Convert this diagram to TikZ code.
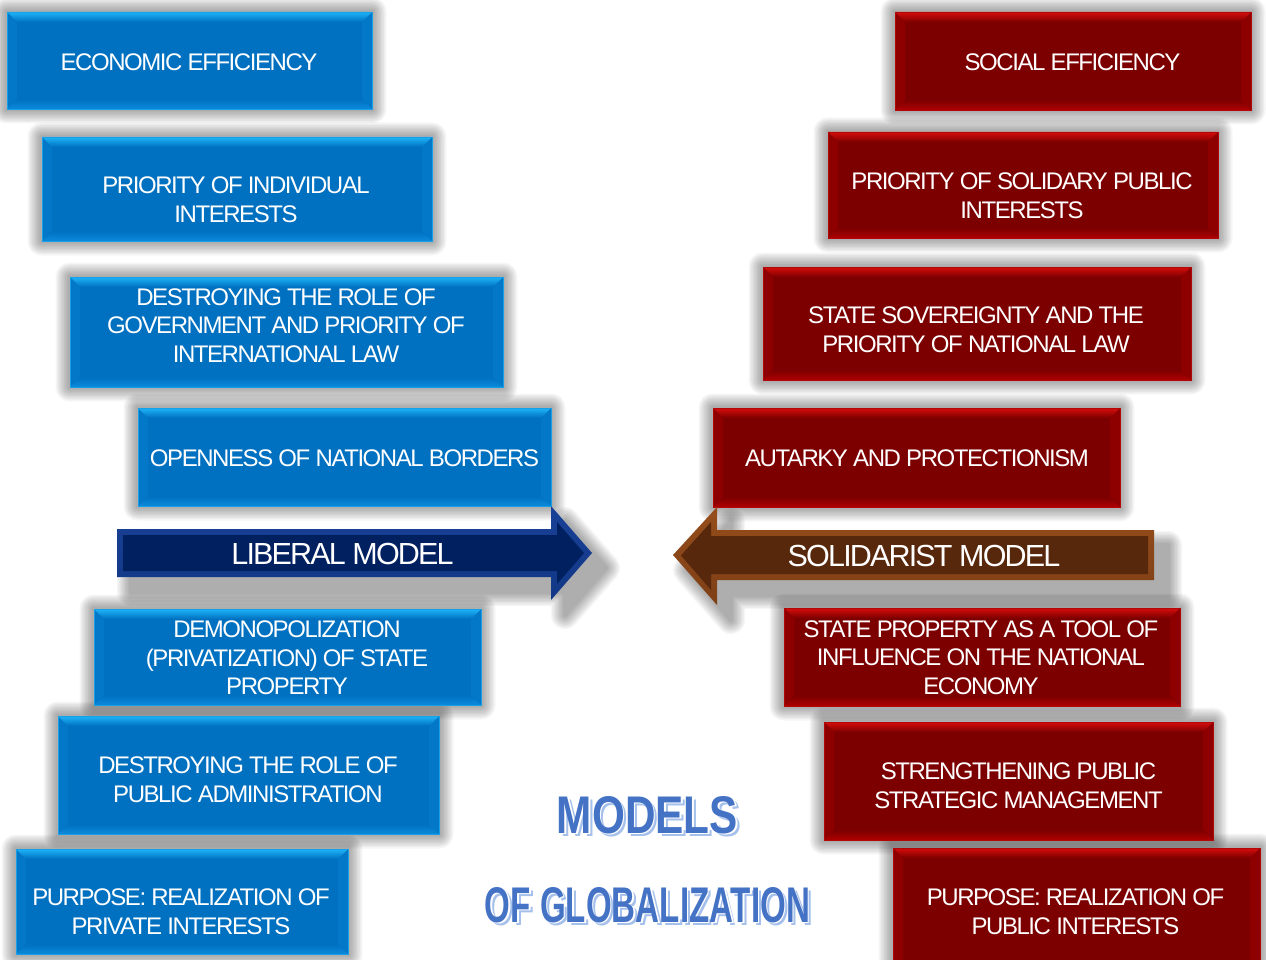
\documentclass[tikz,border=0pt]{standalone}
\usepackage{fontspec}
\setmainfont{Liberation Sans}
\newfontfamily\boxfont{Liberation Sans}[LetterSpace=-6]
\usetikzlibrary{calc}
\pgfdeclarelayer{bgzero}
\pgfdeclarelayer{background}
\pgfsetlayers{bgzero,background,main}
\definecolor{bmain}{RGB}{0,112,192}
\definecolor{btop}{RGB}{30,180,248}
\definecolor{bbot}{RGB}{12,138,220}
\definecolor{bside}{RGB}{4,120,200}
\definecolor{rmain}{RGB}{125,0,0}
\definecolor{rtop}{RGB}{215,12,12}
\definecolor{rbot}{RGB}{175,0,0}
\definecolor{rside}{RGB}{142,0,0}
\definecolor{navy}{RGB}{0,32,96}
\definecolor{navyl}{RGB}{25,65,150}
\definecolor{brn}{RGB}{88,40,12}
\definecolor{brnl}{RGB}{150,78,28}
\definecolor{ttl}{RGB}{68,114,196}
\definecolor{ttls}{RGB}{165,192,235}
\newcommand\softshadow[1]{%
  \begin{pgfonlayer}{background}
  \begin{scope}[shift={(14pt,-15pt)}]
  \foreach \k in {0,...,9}{
    \pgfmathsetmacro\lw{4+2.7*\k}
    \begin{scope}[transparency group, opacity=0.034]
      \filldraw[black, line width=\lw pt, line join=round] #1;
    \end{scope}
  }
  \end{scope}
  \end{pgfonlayer}}
\newcommand\ttltext[3]{%
  \rlap{\smash{\hspace*{3.3pt}\raisebox{-2.8pt}{\color{ttls}\resizebox{#1}{#2}{#3}}}}%
  \rlap{\smash{\hspace*{1.6pt}\raisebox{-1.4pt}{\color{white}\resizebox{#1}{#2}{#3}}}}%
  {\color{ttl}\resizebox{#1}{#2}{#3}}}
\tikzset{
  bevel/.style n args={4}{path picture={
    \coordinate (@nw) at (path picture bounding box.north west);
    \coordinate (@ne) at (path picture bounding box.north east);
    \coordinate (@sw) at (path picture bounding box.south west);
    \coordinate (@se) at (path picture bounding box.south east);
    \fill[#4] (@nw) -- (@sw) -- ([shift={(10pt,10pt)}]@sw) -- ([shift={(10pt,-10pt)}]@nw) -- cycle;
    \fill[#4] (@ne) -- (@se) -- ([shift={(-10pt,10pt)}]@se) -- ([shift={(-10pt,-10pt)}]@ne) -- cycle;
    \shade[top color=#1, bottom color=#3] (@sw) -- (@se) -- ([shift={(-10pt,10pt)}]@se) -- ([shift={(10pt,10pt)}]@sw) -- cycle;
    \shade[top color=#2, bottom color=#1] (@nw) -- (@ne) -- ([shift={(-10pt,-10pt)}]@ne) -- ([shift={(10pt,-10pt)}]@nw) -- cycle;
  }},
  bluebox/.style={rectangle, inner sep=0pt, fill=bmain, draw=btop!70!bmain, line width=0.7pt, bevel={bmain}{btop}{bbot}{bside}},
  redbox/.style={rectangle, inner sep=0pt, fill=rmain, draw=rtop!60!rmain, line width=0.7pt, bevel={rmain}{rtop}{rbot}{rside}},
  txt/.style={text=white, font=\boxfont\fontsize{24}{28.7}\selectfont, align=center, inner sep=0pt},
  arrtxt/.style={text=white, font=\boxfont\fontsize{30.5}{34}\selectfont, inner sep=0pt},
  ttlfont/.style={font=\bfseries, inner sep=0pt},
}
\newcommand\boxshadow[1]{\softshadow{(#1.north west) rectangle (#1.south east)}}
\begin{document}
\begin{tikzpicture}[x=1pt, y=-1pt]
\begin{pgfonlayer}{bgzero}
\fill[white] (0,0) rectangle (1266,960);
\end{pgfonlayer}
\useasboundingbox (0,0) rectangle (1266,960);

% ---------- left (blue) column ----------
\node[bluebox, minimum width=365pt, minimum height=97pt] (l1) at (189.5,60.5) {};
\boxshadow{l1}
\node[txt] (l1t) at (189,62) {ECONOMIC EFFICIENCY};
\node[bluebox, minimum width=390pt, minimum height=104pt] (l2) at (237,189) {};
\boxshadow{l2}
\node[txt] (l2t) at (236,200) {PRIORITY OF INDIVIDUAL\\INTERESTS};
\node[bluebox, minimum width=433pt, minimum height=110pt] (l3) at (286.5,332) {};
\boxshadow{l3}
\node[txt] (l3t) at (286,325.5) {DESTROYING THE ROLE OF\\GOVERNMENT AND PRIORITY OF\\INTERNATIONAL LAW};
\node[bluebox, minimum width=413pt, minimum height=98pt] (l4) at (344.5,457) {};
\boxshadow{l4}
\node[txt] (l4t) at (344.5,458) {OPENNESS OF NATIONAL BORDERS};

% liberal arrow
\coordinate (libtip) at (592,553);
\softshadow{(117,529) -- (551,529) -- (551,506) -- (592,553) -- (551,600) -- (551,577) -- (117,577) -- cycle}
\shade[top color=navyl, bottom color=navyl!70!navy]
  (117,529) -- (551,529) -- (551,506) -- (libtip) -- (551,600) -- (551,577) -- (117,577) -- cycle;
\fill[navy] (123,535) -- (557,535) -- (557,522) -- (584,553) -- (557,584) -- (557,571) -- (123,571) -- cycle;
\node[arrtxt] (lib) at (342.5,554) {LIBERAL MODEL};

\node[bluebox, minimum width=387pt, minimum height=96pt] (l6) at (287.5,657) {};
\boxshadow{l6}
\node[txt] (l6t) at (287,658) {DEMONOPOLIZATION\\(PRIVATIZATION) OF STATE\\PROPERTY};
\node[bluebox, minimum width=381pt, minimum height=118pt] (l7) at (248.5,775) {};
\boxshadow{l7}
\node[txt] (l7t) at (248,780) {DESTROYING THE ROLE OF\\PUBLIC ADMINISTRATION};
\node[bluebox, minimum width=332pt, minimum height=105pt] (l8) at (182,901.5) {};
\boxshadow{l8}
\node[txt] (l8t) at (181,912) {PURPOSE: REALIZATION OF\\PRIVATE INTERESTS};

% ---------- right (red) column ----------
\node[redbox, minimum width=356pt, minimum height=98pt] (r1) at (1073,61) {};
\boxshadow{r1}
\node[txt] (r1t) at (1072.5,62) {SOCIAL EFFICIENCY};
\node[redbox, minimum width=390pt, minimum height=106pt] (r2) at (1023,185) {};
\boxshadow{r2}
\node[txt] (r2t) at (1022,195.5) {PRIORITY OF SOLIDARY PUBLIC\\INTERESTS};
\node[redbox, minimum width=428pt, minimum height=113pt] (r3) at (977,323.5) {};
\boxshadow{r3}
\node[txt] (r3t) at (976,329.5) {STATE SOVEREIGNTY AND THE\\PRIORITY OF NATIONAL LAW};
\node[redbox, minimum width=407pt, minimum height=99pt] (r4) at (916.5,457.5) {};
\boxshadow{r4}
\node[txt] (r4t) at (917,458) {AUTARKY AND PROTECTIONISM};

% solidarist arrow
\coordinate (soltip) at (673,555);
\softshadow{(1154,530) -- (717,530) -- (717,507) -- (673,555) -- (717,605) -- (717,580) -- (1154,580) -- cycle}
\shade[top color=brnl, bottom color=brnl!60!brn]
  (1154,530) -- (717,530) -- (717,507) -- (soltip) -- (717,605) -- (717,580) -- (1154,580) -- cycle;
\fill[brn] (1148,536) -- (711,536) -- (711,522) -- (681,555.5) -- (711,590) -- (711,574) -- (1148,574) -- cycle;
\node[arrtxt] (sol) at (924,556) {SOLIDARIST MODEL};

\node[redbox, minimum width=396pt, minimum height=98pt] (r6) at (982,657) {};
\boxshadow{r6}
\node[txt] (r6t) at (981,657.5) {STATE PROPERTY AS A TOOL OF\\INFLUENCE ON THE NATIONAL\\ECONOMY};
\node[redbox, minimum width=389pt, minimum height=118pt] (r7) at (1018.5,781) {};
\boxshadow{r7}
\node[txt] (r7t) at (1018.5,785.5) {STRENGTHENING PUBLIC\\STRATEGIC MANAGEMENT};
\node[redbox, minimum width=367pt, minimum height=128pt] (r8) at (1076.5,912) {};
\boxshadow{r8}
\node[txt] (r8t) at (1075.5,912) {PURPOSE: REALIZATION OF\\PUBLIC INTERESTS};

% ---------- title ----------
\node[ttlfont] (models) at (647.5,815) {\ttltext{181pt}{37pt}{MODELS}};
\node[ttlfont] (glob) at (647.5,905) {\ttltext{325pt}{35pt}{OF GLOBALIZATION}};
\end{tikzpicture}
\end{document}
